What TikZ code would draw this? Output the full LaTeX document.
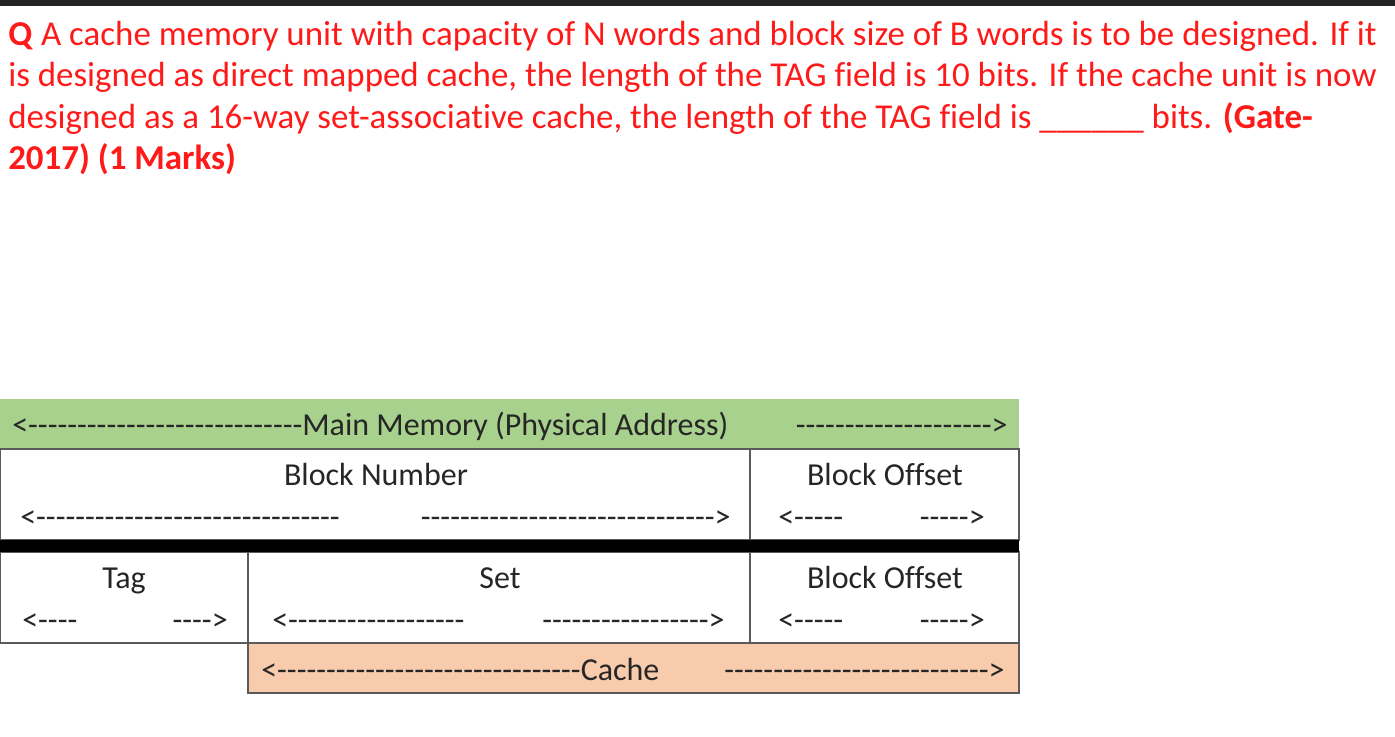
\documentclass[tikz,border=0pt]{standalone}
\usepackage{fontspec}
\newfontfamily\cfont{Carlito}[Ligatures=NoCommon]
\definecolor{qred}{HTML}{FF1A1A}
\definecolor{mmgreen}{HTML}{A9D18E}
\definecolor{cachebg}{HTML}{F8CBAD}
\definecolor{topbar}{HTML}{232323}
\definecolor{rule}{HTML}{5A5A5A}
\begin{document}
\begin{tikzpicture}[x=0.75pt,y=-0.75pt,
  qtext/.style={anchor=base west,inner sep=0pt,text=qred,font=\cfont\fontsize{26.2}{30}\selectfont},
  ttext/.style={inner sep=0pt,text=black!85,font=\cfont\fontsize{24}{28}\selectfont},
  cellline/.style={draw=rule,line width=0.9pt}]
\useasboundingbox (0,0) rectangle (1395,736);
\fill[white] (0,0) rectangle (1395,736);
\fill[topbar] (0,0) rectangle (1395,6);
% question
\node[qtext] (q1) at (8,45) {\textbf{Q} A cache memory unit with capacity of N words and block size of B words is to be designed. If it};
\node[qtext] (q2) at (8,86.5) {is designed as direct mapped cache, the length of the TAG field is 10 bits. If the cache unit is now};
\node[qtext] (q3) at (8,128) {designed as a 16-way set-associative cache, the length of the TAG field is \_\_\_\_\_\_ bits. \textbf{(Gate-}};
\node[qtext] (q4) at (8,169.5) {\textbf{2017) (1 Marks)}};
% table backgrounds
\fill[mmgreen] (0,399) rectangle (1019,449);
\fill[cachebg] (248,643) rectangle (1019,693);
\draw[cellline] (0,449) rectangle (1019,540);
\draw[cellline] (750,449) -- (750,540);
\draw[cellline] (0,552) rectangle (1019,643);
\draw[cellline] (248,552) -- (248,693);
\draw[cellline] (750,552) -- (750,643);
\draw[cellline] (248,643) rectangle (1019,693);
\fill[black] (0,540) rectangle (1019,552);
% texts
\node[ttext,anchor=base west] (mml) at (12,435) {<----------------------------Main Memory (Physical Address)};
\node[ttext,anchor=base east] (mmr) at (1008,435) {-------------------->};
\node[ttext,anchor=base] (bn) at (376,485) {Block Number};
\node[ttext,anchor=base west] (bnl) at (20,527) {<-------------------------------};
\node[ttext,anchor=base east] (bnr) at (731,527) {------------------------------>};
\node[ttext,anchor=base] (bo1) at (885,485) {Block Offset};
\node[ttext,anchor=base west] (bo1l) at (778,527) {<-----};
\node[ttext,anchor=base east] (bo1r) at (985,527) {----->};
\node[ttext,anchor=base] (tag) at (124,588) {Tag};
\node[ttext,anchor=base west] (tagl) at (22,630) {<----};
\node[ttext,anchor=base east] (tagr) at (228,630) {---->};
\node[ttext,anchor=base] (set) at (500,588) {Set};
\node[ttext,anchor=base west] (setl) at (272,630) {<------------------};
\node[ttext,anchor=base east] (setr) at (725,630) {----------------->};
\node[ttext,anchor=base] (bo2) at (885,588) {Block Offset};
\node[ttext,anchor=base west] (bo2l) at (778,630) {<-----};
\node[ttext,anchor=base east] (bo2r) at (985,630) {----->};
\node[ttext,anchor=base west] (cl) at (261,680) {<-------------------------------Cache};
\node[ttext,anchor=base east] (cr) at (1005,680) {--------------------------->};
\end{tikzpicture}
\end{document}
